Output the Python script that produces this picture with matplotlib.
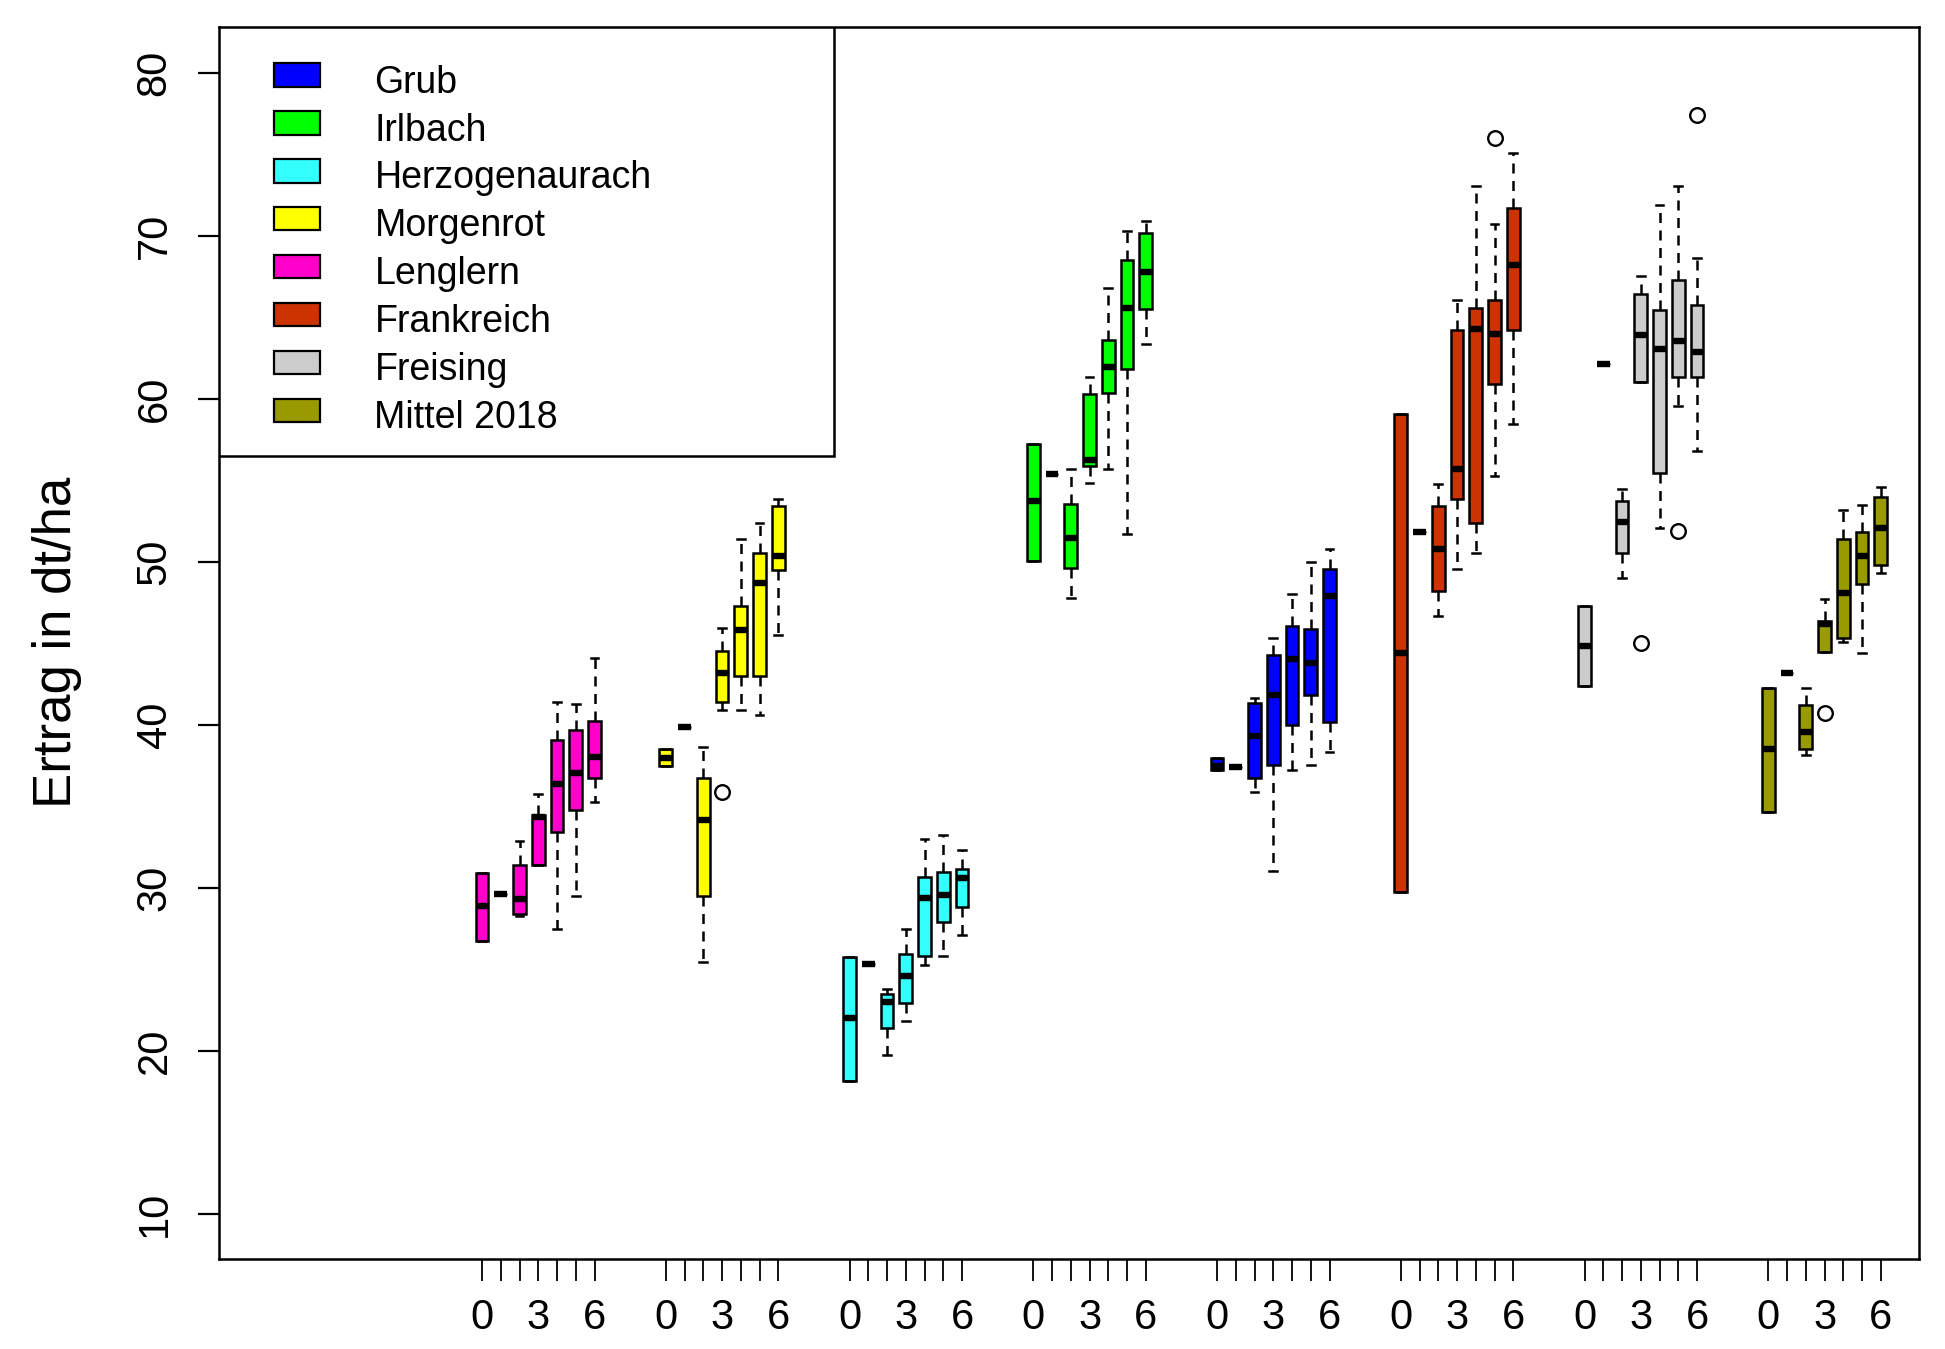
import matplotlib.pyplot as plt
from matplotlib.patches import Rectangle

plt.rcParams['font.family'] = ['Liberation Sans', 'DejaVu Sans']

# sites in the order they appear along the x axis
sites = ["Lenglern", "Morgenrot", "Herzogenaurach", "Irlbach",
         "Grub", "Frankreich", "Freising", "Mittel 2018"]
legend_order = ["Grub", "Irlbach", "Herzogenaurach", "Morgenrot",
                "Lenglern", "Frankreich", "Freising", "Mittel 2018"]
colors = {
    "Grub": "#0000FF",
    "Irlbach": "#00FF00",
    "Herzogenaurach": "#33FFFF",
    "Morgenrot": "#FFFF00",
    "Lenglern": "#FF00CC",
    "Frankreich": "#CC3300",
    "Freising": "#CCCCCC",
    "Mittel 2018": "#999900",
}
levels = [0, 1, 2, 3, 4, 5, 6]
tick_labels = ["0", "", "", "3", "", "", "6"]

# box statistics per site (rows follow `sites`, columns follow `levels`)
whislo = [
    [26.72, 29.60, 28.27, 31.42, 27.47, 29.47, 35.23],
    [37.48, 39.84, 25.46, 40.89, 40.92, 40.59, 45.48],
    [18.17, 25.34, 19.73, 21.82, 25.23, 25.78, 27.07],
    [50.07, 55.39, 47.75, 54.80, 55.69, 51.72, 63.38],
    [37.25, 37.38, 35.87, 31.00, 37.25, 37.51, 38.31],
    [29.74, 51.85, 46.69, 49.58, 50.55, 55.23, 58.42],
    [42.40, 62.13, 48.97, 61.04, 52.06, 59.53, 56.77],
    [34.63, 43.20, 38.16, 44.43, 45.05, 44.39, 49.30],
]
q1 = [
    [26.72, 29.60, 28.40, 31.42, 33.43, 34.78, 36.73],
    [37.48, 39.84, 29.47, 41.37, 43.00, 43.00, 49.46],
    [18.17, 25.34, 21.38, 22.92, 25.78, 27.92, 28.84],
    [50.07, 55.39, 49.59, 55.88, 60.36, 61.80, 65.51],
    [37.25, 37.38, 36.74, 37.51, 39.99, 41.80, 40.14],
    [29.74, 51.85, 48.20, 53.85, 52.35, 60.87, 64.21],
    [42.40, 62.13, 50.51, 61.04, 55.42, 61.36, 61.36],
    [34.63, 43.20, 38.48, 44.43, 45.30, 48.63, 49.78],
]
medians = [
    [28.85, 29.60, 29.30, 34.33, 36.36, 37.06, 38.04],
    [37.98, 39.84, 34.18, 43.19, 45.79, 48.70, 50.36],
    [22.00, 25.34, 22.96, 24.57, 29.36, 29.58, 30.57],
    [53.71, 55.39, 51.46, 56.21, 61.95, 65.59, 67.76],
    [37.45, 37.38, 39.33, 41.81, 44.01, 43.76, 47.88],
    [44.38, 51.85, 50.77, 55.71, 64.27, 63.95, 68.23],
    [44.84, 62.13, 52.44, 63.93, 63.03, 63.51, 62.86],
    [38.48, 43.20, 39.54, 46.19, 48.09, 50.37, 52.06],
]
q3 = [
    [30.92, 29.60, 31.42, 34.48, 39.06, 39.69, 40.24],
    [38.48, 39.84, 36.73, 44.55, 47.29, 50.51, 53.41],
    [25.75, 25.34, 23.47, 25.93, 30.64, 30.95, 31.12],
    [57.24, 55.39, 53.56, 60.29, 63.60, 68.53, 70.18],
    [37.95, 37.38, 41.33, 44.25, 46.05, 45.85, 49.58],
    [59.04, 51.85, 53.44, 64.21, 65.56, 66.04, 71.69],
    [47.31, 62.13, 53.72, 66.40, 65.43, 67.30, 65.75],
    [42.27, 43.20, 41.21, 46.35, 51.40, 51.81, 53.96],
]
whishi = [
    [30.92, 29.60, 32.85, 35.73, 41.37, 41.24, 44.07],
    [38.48, 39.84, 38.61, 45.95, 51.38, 52.36, 53.86],
    [25.75, 25.34, 23.76, 27.44, 32.96, 33.26, 32.33],
    [57.24, 55.39, 55.69, 61.36, 66.80, 70.29, 70.92],
    [37.95, 37.38, 41.65, 45.34, 48.03, 49.99, 50.77],
    [59.04, 51.85, 54.76, 66.04, 73.05, 70.72, 75.07],
    [47.31, 62.13, 54.43, 67.52, 71.87, 73.07, 68.64],
    [42.27, 43.20, 42.27, 47.73, 53.20, 53.50, 54.60],
]
outliers = {
    ("Morgenrot", 3): [35.86],
    ("Frankreich", 5): [75.97],
    ("Freising", 3): [45.0],
    ("Freising", 5): [51.9],
    ("Freising", 6): [77.38],
    ("Mittel 2018", 3): [40.70],
}

W, H = 1945, 1349
ax_left, ax_right, ax_top, ax_bottom = 219, 1919, 26.7, 1259  # pixels
group_stride = 9.8

fig = plt.figure(figsize=(W / 100, H / 100), dpi=100)
ax = fig.add_axes([ax_left / W, 1 - ax_bottom / H,
                   (ax_right - ax_left) / W, (ax_bottom - ax_top) / H])

xticks, xlabels = [], []
for g, site in enumerate(sites):
    stats = []
    for k in levels:
        stats.append(dict(med=medians[g][k], q1=q1[g][k], q3=q3[g][k],
                          whislo=whislo[g][k], whishi=whishi[g][k],
                          fliers=outliers.get((site, k), [])))
    pos = [g * group_stride + k for k in levels]
    ax.bxp(stats, positions=pos, widths=0.68, capwidths=0.42,
           patch_artist=True, manage_ticks=False,
           boxprops=dict(facecolor=colors[site], edgecolor='black', linewidth=1.8),
           medianprops=dict(color='black', linewidth=4.6, solid_capstyle='butt'),
           whiskerprops=dict(color='black', linewidth=1.8, linestyle=(0, (4, 3))),
           capprops=dict(color='black', linewidth=1.8),
           flierprops=dict(marker='o', markerfacecolor='none', markeredgecolor='black',
                           markersize=10.5, markeredgewidth=1.7))
    xticks += pos
    xlabels += tick_labels

ax.set_xlim(-14.03, 76.64)
ax.set_ylim(7.22, 82.82)

ax.set_xticks(xticks)
ax.set_xticklabels(xlabels)
ax.set_yticks(range(10, 81, 10))
ax.tick_params(axis='x', length=16, width=1.3, pad=12, labelsize=30)
ax.tick_params(axis='y', length=15, width=1.6, pad=17, labelsize=30, labelrotation=90)
for lab in ax.get_yticklabels():
    lab.set_va('center')
for sp in ax.spines.values():
    sp.set_linewidth(1.8)

ax.set_ylabel("Ertrag in dt/ha", fontsize=38)
ax.yaxis.set_label_coords(-0.0806, 0.5)

# legend box in the top-left corner, laid out like the R legend
def ax_x(px):
    return (px - ax_left) / (ax_right - ax_left)

def ax_y(py):
    return (ax_bottom - py) / (ax_bottom - ax_top)

ax.add_patch(Rectangle((0, ax_y(455.7)), ax_x(834), 1 - ax_y(455.7),
                       transform=ax.transAxes, facecolor='white',
                       edgecolor='black', linewidth=1.8, zorder=5))
for i, name in enumerate(legend_order):
    cy = 75 + i * 47.9
    ax.add_patch(Rectangle((ax_x(274), ax_y(cy + 11.7)), ax_x(320) - ax_x(274),
                           ax_y(cy - 11.7) - ax_y(cy + 11.7),
                           transform=ax.transAxes, facecolor=colors[name],
                           edgecolor='black', linewidth=1.6, zorder=6))
    ax.text(ax_x(374.5), ax_y(92.7 + i * 47.9), name, transform=ax.transAxes,
            fontsize=27, va='baseline', ha='left', zorder=7)

fig.savefig('out.png', dpi=100)
